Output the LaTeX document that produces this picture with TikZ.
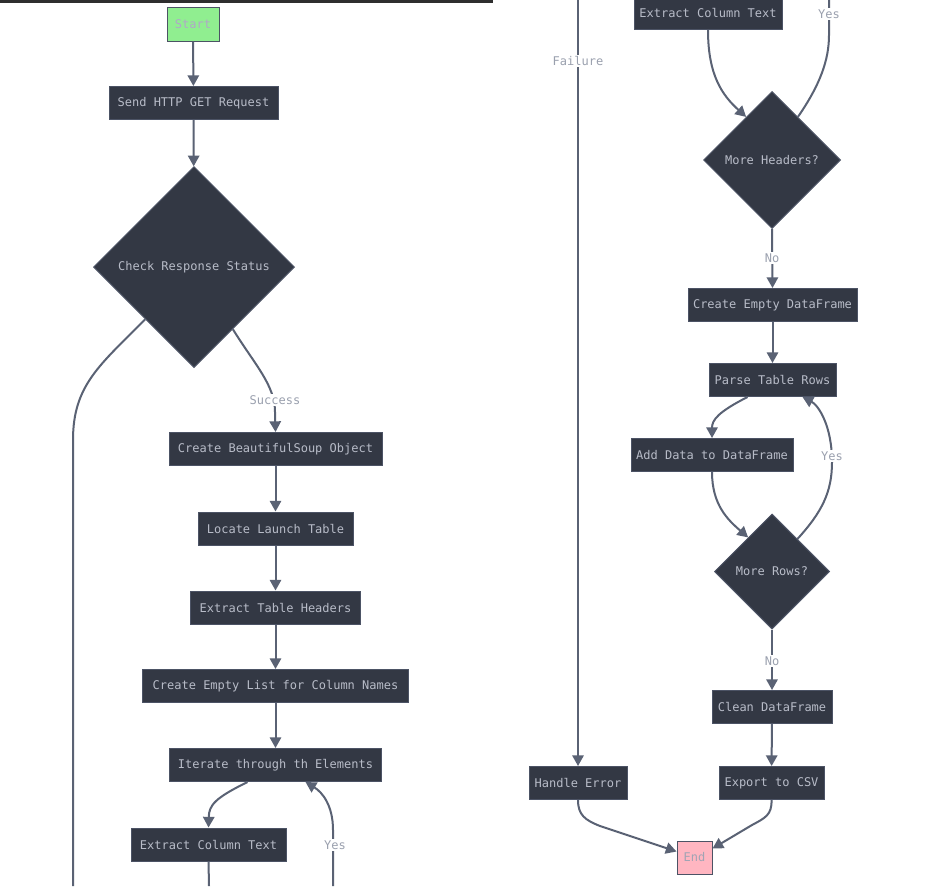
\documentclass[tikz,border=0pt]{standalone}
\usepackage{fontspec}
\setmonofont{DejaVu Sans Mono}
\usetikzlibrary{shapes.geometric,arrows.meta,calc}
\definecolor{nodefill}{HTML}{333844}
\definecolor{nodeline}{HTML}{4C5365}
\definecolor{nodetext}{HTML}{B8BCC8}
\definecolor{edgecol}{HTML}{5A6274}
\definecolor{labcol}{HTML}{9AA0AE}
\definecolor{startfill}{HTML}{90EE90}
\definecolor{starttext}{HTML}{B0A8C8}
\definecolor{endfill}{HTML}{FFB6C1}
\definecolor{endtext}{HTML}{A0A4B4}
\definecolor{barcol}{HTML}{2E2E2E}
\tikzset{
  txt/.style={font=\ttfamily\fontsize{9}{10}\selectfont},
  proc/.style={txt, draw=nodeline, fill=nodefill, line width=0.75pt, text=nodetext, minimum height=24.75pt, inner sep=0pt},
  dec/.style={txt, diamond, aspect=1, draw=nodeline, fill=nodefill, line width=0.75pt, text=nodetext, inner sep=0pt},
  flow/.style={draw=edgecol, line width=1.5pt, -{Triangle[length=8pt,width=8.5pt]}},
  link/.style={draw=edgecol, line width=1.5pt},
  lab/.style={txt, fill=white, text=labcol, inner sep=1pt}
}
\begin{document}
\begin{tikzpicture}[x=0.75pt,y=-0.75pt]
\useasboundingbox (0,0) rectangle (944,886);
\clip (0,0) rectangle (944,886);
\fill[white] (0,0) rectangle (944,886);
\fill[barcol] (0,0) rectangle (493,3);

% left column nodes
\node[proc, fill=startfill, text=starttext, minimum width=39pt, minimum height=25.5pt] (start) at (193,24) {Start};
\node[proc, minimum width=126.75pt] (send) at (193.5,103) {Send HTTP GET Request};
\node[dec, minimum width=150.75pt, minimum height=150.75pt] (chk) at (194,267) {Check Response Status};
\node[proc, minimum width=159.75pt] (bso) at (275.5,449) {Create BeautifulSoup Object};
\node[proc, minimum width=116.25pt] (loc) at (275.5,528.5) {Locate Launch Table};
\node[proc, minimum width=127.5pt] (eth) at (275.5,607.5) {Extract Table Headers};
\node[proc, minimum width=199.5pt] (cel) at (275.5,686) {Create Empty List for Column Names};
\node[proc, minimum width=159pt] (iter) at (275.5,765) {Iterate through th Elements};
\node[proc, minimum width=116.25pt] (ectL) at (208.5,844.5) {Extract Column Text};

% right column nodes
\node[proc, minimum width=111pt] (ectR) at (708,13) {Extract Column Text};
\node[dec, minimum width=102.75pt, minimum height=102.75pt] (mh) at (772,160) {More Headers?};
\node[proc, minimum width=126.75pt] (ced) at (772.5,305) {Create Empty DataFrame};
\node[proc, minimum width=95.25pt] (ptr) at (772.5,380) {Parse Table Rows};
\node[proc, minimum width=121.5pt] (adf) at (712,455) {Add Data to DataFrame};
\node[dec, minimum width=86.25pt, minimum height=86.25pt] (mr) at (772,571.5) {More Rows?};
\node[proc, minimum width=90pt] (cdf) at (772,707) {Clean DataFrame};
\node[proc, minimum width=78.75pt] (exp) at (771.5,783) {Export to CSV};
\node[proc, minimum width=73.5pt] (herr) at (578,783) {Handle Error};
\node[proc, fill=endfill, text=endtext, minimum width=26.25pt, minimum height=24.75pt] (end) at (694.5,857.5) {End};

% free ends of connectors cut by the frame
\coordinate (failA) at (73,886);
\coordinate (failB) at (578,0);
\coordinate (yesA) at (333,886);
\coordinate (yesB) at (829,0);
\coordinate (ectLout) at (209,886);

% left column edges
\draw[flow] (start) -- (send);
\draw[flow] (send) -- (chk);
\draw[link] (chk.-133) .. controls (100,365) and (73,385) .. (73,440) -- (failA);
\draw[flow] (chk.-58) .. controls (255,365) and (275,385) .. (275,412) -- (bso.north);
\draw[flow] (bso) -- (loc);
\draw[flow] (loc) -- (eth);
\draw[flow] (eth) -- (cel);
\draw[flow] (cel) -- (iter);
\draw[flow] ($(iter.south)+(-28,0)$) .. controls (215,798) and (209,805) .. (ectL.north);
\draw[flow] (yesA) -- (333,830) .. controls (333,805) and (322,792) .. ($(iter.south)+(30,0)$);
\draw[link] (ectL.south) -- (ectLout);

% right column edges
\draw[flow] (failB) -- (herr.north);
\draw[flow] (ectR.south) .. controls (708,75) and (722,95) .. (mh.121);
\draw[link] (mh.59) .. controls (820,85) and (829,60) .. (829,35) -- (yesB);
\draw[flow] (mh.south) -- (ced.north);
\draw[flow] (ced) -- (ptr);
\draw[flow] ($(ptr.south)+(-25,0)$) .. controls (718,412) and (712,420) .. (adf.north);
\draw[flow] (mr.52) .. controls (822,512) and (832,492) .. (832,462) .. controls (832,425) and (818,405) .. ($(ptr.south)+(30,0)$);
\draw[flow] (adf.south) .. controls (712,505) and (728,520) .. (mr.125);
\draw[flow] (mr.south) -- (cdf.north);
\draw[flow] (cdf) -- (exp);
\draw[flow] (herr.south) .. controls (578,815) and (585,820) .. (600,826) -- ($(end.west)+(0,-6)$);
\draw[flow] (exp.south) .. controls (772,815) and (765,818) .. (752,825) -- ($(end.east)+(0,-9)$);

% labels
\node[lab] (lfail) at (578,61) {Failure};
\node[lab] (lsucc) at (275,400) {Success};
\node[lab] (lyes1) at (335,845) {Yes};
\node[lab] (lyes2) at (829,14) {Yes};
\node[lab] (lno1) at (772,258) {No};
\node[lab] (lyes3) at (832,456) {Yes};
\node[lab] (lno2) at (772,661) {No};
\end{tikzpicture}
\end{document}
